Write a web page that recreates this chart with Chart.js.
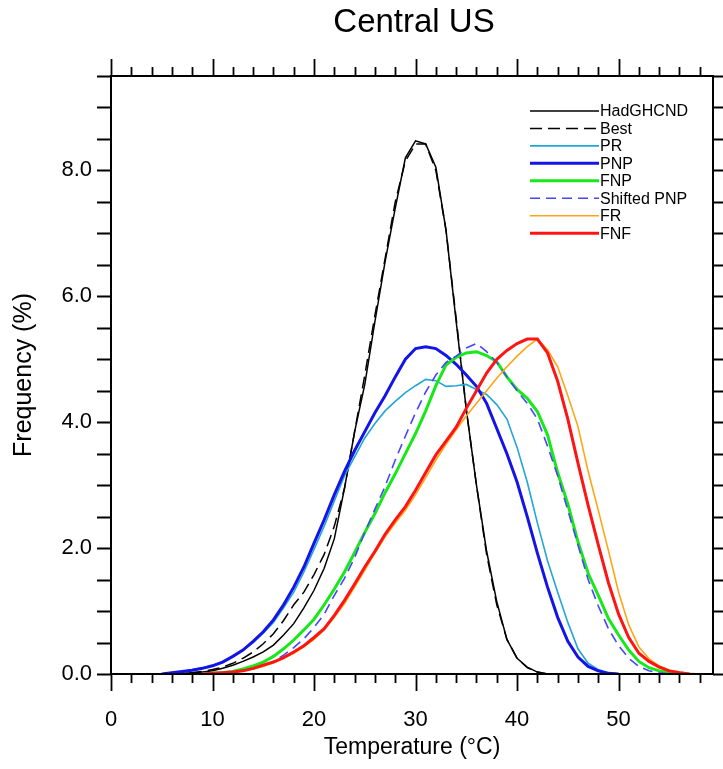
<!DOCTYPE html>
<html>
<head>
<meta charset="utf-8">
<script src="https://cdn.jsdelivr.net/npm/chart.js@4.4.0/dist/chart.umd.min.js"></script>
<style>
  html, body { margin: 0; padding: 0; background: #fff; }
</style>
</head>
<body>
<canvas id="pdfChart" width="723" height="769"></canvas>
<script>
// --------------------- Data ---------------------
const chartTitle = "Central US";
const xTitle = "Temperature (°C)";
const yTitle = "Frequency (%)";

const temps = [4, 5, 6, 7, 8, 9, 10, 11, 12, 13, 14, 15, 16, 17, 18, 19, 20, 21, 22, 23,
  24, 25, 26, 27, 28, 29, 30, 31, 32, 33, 34, 35, 36, 37, 38, 39, 40, 41, 42, 43,
  44, 45, 46, 47, 48, 49, 50, 51, 52, 53, 54, 55, 56, 57, 58];

const hadghcnd = [null, null, 0.0, 0.01, 0.02, 0.03, 0.05, 0.09, 0.14, 0.2, 0.27, 0.35, 0.46, 0.62, 0.8, 1.05, 1.33, 1.68, 2.15, 2.95,
  3.85, 4.6, 5.6, 6.55, 7.4, 8.2, 8.47, 8.42, 8.05, 7.05, 5.6, 4.2, 3.0, 1.95, 1.15, 0.55, 0.25, 0.11, 0.03, 0.0,
  null, null, null, null, null, null, null, null, null, null, null, null, null, null, null];

const best = [null, null, 0.0, 0.01, 0.02, 0.04, 0.07, 0.11, 0.17, 0.25, 0.35, 0.48, 0.64, 0.85, 1.1, 1.3, 1.58, 1.9, 2.35, 2.95,
  3.85, 4.75, 5.7, 6.6, 7.5, 8.15, 8.42, 8.42, 8.0, 7.05, 5.65, 4.2, 3.0, 1.9, 1.1, 0.55, 0.25, 0.1, 0.03, 0.0,
  null, null, null, null, null, null, null, null, null, null, null, null, null, null, null];

const pr = [null, 0.0, 0.02, 0.04, 0.07, 0.1, 0.14, 0.2, 0.28, 0.38, 0.5, 0.65, 0.82, 1.05, 1.3, 1.62, 1.98, 2.35, 2.75, 3.15,
  3.45, 3.75, 3.98, 4.18, 4.33, 4.47, 4.58, 4.68, 4.66, 4.57, 4.58, 4.6, 4.52, 4.44, 4.28, 4.05, 3.6, 3.05, 2.4, 1.8,
  1.3, 0.82, 0.4, 0.17, 0.07, 0.02, 0.0, null, null, null, null, null, null, null, null];

const pnp = [null, 0.0, 0.02, 0.04, 0.06, 0.09, 0.13, 0.19, 0.28, 0.38, 0.52, 0.67, 0.86, 1.1, 1.38, 1.7, 2.08, 2.45, 2.85, 3.22,
  3.55, 3.85, 4.15, 4.42, 4.72, 5.0, 5.17, 5.2, 5.17, 5.06, 4.92, 4.75, 4.57, 4.3, 3.9, 3.5, 3.05, 2.5, 1.92, 1.38,
  0.9, 0.52, 0.27, 0.12, 0.05, 0.01, 0.0, null, null, null, null, null, null, null, null];

const fnp = [null, null, null, null, null, 0.0, 0.01, 0.02, 0.04, 0.08, 0.13, 0.19, 0.28, 0.4, 0.54, 0.7, 0.87, 1.1, 1.35, 1.62,
  1.93, 2.25, 2.55, 2.88, 3.18, 3.5, 3.82, 4.18, 4.58, 4.91, 5.03, 5.1, 5.12, 5.06, 4.96, 4.72, 4.52, 4.38, 4.17, 3.8,
  3.2, 2.7, 2.1, 1.6, 1.25, 0.88, 0.62, 0.38, 0.2, 0.1, 0.05, 0.02, 0.0, null, null];

const shiftedPnp = [null, null, null, null, null, 0.0, 0.01, 0.02, 0.03, 0.05, 0.08, 0.13, 0.2, 0.3, 0.42, 0.56, 0.74, 0.95, 1.25, 1.52,
  1.85, 2.25, 2.62, 2.98, 3.4, 3.78, 4.15, 4.48, 4.75, 4.95, 5.05, 5.18, 5.25, 5.12, 4.95, 4.72, 4.5, 4.3, 4.05, 3.62,
  3.15, 2.6, 2.05, 1.5, 1.08, 0.72, 0.45, 0.25, 0.12, 0.05, 0.02, 0.0, null, null, null];

const fr = [null, null, null, null, null, 0.0, 0.01, 0.02, 0.03, 0.05, 0.08, 0.12, 0.18, 0.25, 0.33, 0.43, 0.55, 0.7, 0.9, 1.12,
  1.38, 1.65, 1.92, 2.18, 2.4, 2.6, 2.85, 3.12, 3.4, 3.65, 3.88, 4.1, 4.3, 4.5, 4.7, 4.88, 5.05, 5.2, 5.32, 5.15,
  4.88, 4.42, 3.93, 3.22, 2.6, 1.96, 1.3, 0.78, 0.43, 0.24, 0.13, 0.06, 0.03, 0.01, 0.0];

const fnf = [null, null, null, null, null, 0.0, 0.01, 0.02, 0.03, 0.05, 0.09, 0.14, 0.19, 0.26, 0.35, 0.45, 0.58, 0.72, 0.93, 1.17,
  1.43, 1.7, 1.95, 2.22, 2.45, 2.66, 2.92, 3.2, 3.48, 3.7, 3.92, 4.22, 4.5, 4.78, 5.0, 5.14, 5.25, 5.32, 5.32, 5.1,
  4.65, 4.05, 3.35, 2.68, 2.05, 1.45, 0.95, 0.58, 0.33, 0.2, 0.11, 0.05, 0.02, 0.0, null];

const xMax = 59.3;
const yMax = 9.5;

// --------------------- Helpers ---------------------
const FONT = "'Liberation Sans', Arial, Helvetica, sans-serif";

function toPoints(values) {
  const pts = [];
  values.forEach((v, i) => { if (v !== null) pts.push({ x: temps[i], y: v }); });
  return pts;
}

function series(label, values, color, width, dash, order) {
  return {
    label: label,
    data: toPoints(values),
    borderColor: color,
    borderWidth: width,
    borderDash: dash || [],
    pointRadius: 0,
    tension: 0,
    fill: false,
    order: order
  };
}

// frame, tick marks, title and legend drawn on top
const framePlugin = {
  id: 'frame',
  afterDraw(chart) {
    const { ctx, chartArea: a, scales } = chart;
    const xs = scales.x, ys = scales.y;
    ctx.save();
    ctx.strokeStyle = '#000';
    ctx.lineWidth = 2;
    ctx.strokeRect(a.left, a.top, a.right - a.left, a.bottom - a.top);

    // x tick marks (bottom + top, outward)
    ctx.lineWidth = 1.8;
    ctx.beginPath();
    for (let v = 0; v <= 58; v += 2) {
      const px = Math.round(xs.getPixelForValue(v)) + 0.5;
      const len = v % 10 === 0 ? 17 : 9;
      ctx.moveTo(px, a.bottom); ctx.lineTo(px, a.bottom + len);
      ctx.moveTo(px, a.top); ctx.lineTo(px, a.top - len);
    }
    // y tick marks (left + right, outward)
    for (let v = 0; v <= 9.5; v += 0.5) {
      const py = Math.round(ys.getPixelForValue(v)) + 0.5;
      ctx.moveTo(a.left, py); ctx.lineTo(a.left - 14, py);
      ctx.moveTo(a.right, py); ctx.lineTo(a.right + 12, py);
    }
    ctx.stroke();

    // title
    ctx.fillStyle = '#000';
    ctx.font = '33px ' + FONT;
    ctx.textAlign = 'center';
    ctx.textBaseline = 'middle';
    ctx.fillText(chartTitle, (a.left + a.right) / 2 + 2, 23);

    // legend
    ctx.font = '16px ' + FONT;
    ctx.textAlign = 'left';
    chart.data.datasets.forEach((ds, i) => {
      const y = 111 + i * 17.45;
      ctx.strokeStyle = ds.borderColor;
      ctx.lineWidth = ds.borderWidth;
      ctx.setLineDash(ds.borderDash);
      ctx.beginPath();
      ctx.moveTo(530, y); ctx.lineTo(599, y);
      ctx.stroke();
      ctx.setLineDash([]);
      ctx.fillText(ds.label, 600, y + 1);
    });
    ctx.restore();
  }
};

// --------------------- Chart ---------------------
const ctx = document.getElementById('pdfChart').getContext('2d');

new Chart(ctx, {
  type: 'line',
  data: {
    datasets: [
      series('HadGHCND', hadghcnd, '#000000', 1.5, null, 8),
      series('Best', best, '#000000', 1.5, [12, 6], 7),
      series('PR', pr, '#22a6d8', 1.6, null, 6),
      series('PNP', pnp, '#1414e8', 3, null, 5),
      series('FNP', fnp, '#18e818', 3, null, 4),
      series('Shifted PNP', shiftedPnp, '#4646ff', 1.6, [10, 6], 3),
      series('FR', fr, '#ffa514', 1.6, null, 2),
      series('FNF', fnf, '#ff1414', 3, null, 1)
    ]
  },
  options: {
    responsive: false,
    animation: false,
    layout: { padding: { top: 76, right: 10, left: 0, bottom: 0 } },
    plugins: { legend: { display: false }, tooltip: { enabled: false } },
    scales: {
      x: {
        type: 'linear', min: 0, max: xMax,
        grid: { display: false, drawTicks: false },
        border: { display: false },
        ticks: {
          stepSize: 10, includeBounds: false, padding: 33, color: '#000',
          maxRotation: 0, autoSkip: false,
          font: { family: FONT, size: 22 }
        },
        title: {
          display: true, text: xTitle, color: '#000',
          font: { family: FONT, size: 23 },
          padding: { top: 0, bottom: 8 }
        },
        afterFit: s => { s.height = 95; }
      },
      y: {
        min: 0, max: yMax,
        grid: { display: false, drawTicks: false },
        border: { display: false },
        ticks: {
          stepSize: 2, includeBounds: false, padding: 19, color: '#000',
          font: { family: FONT, size: 22 },
          callback: v => v.toFixed(1)
        },
        title: {
          display: true, text: yTitle, color: '#000',
          font: { family: FONT, size: 25 },
          padding: { top: 9, bottom: 0 }
        },
        afterFit: s => { s.width = 111; }
      }
    }
  },
  plugins: [framePlugin]
});
</script>
</body>
</html>
